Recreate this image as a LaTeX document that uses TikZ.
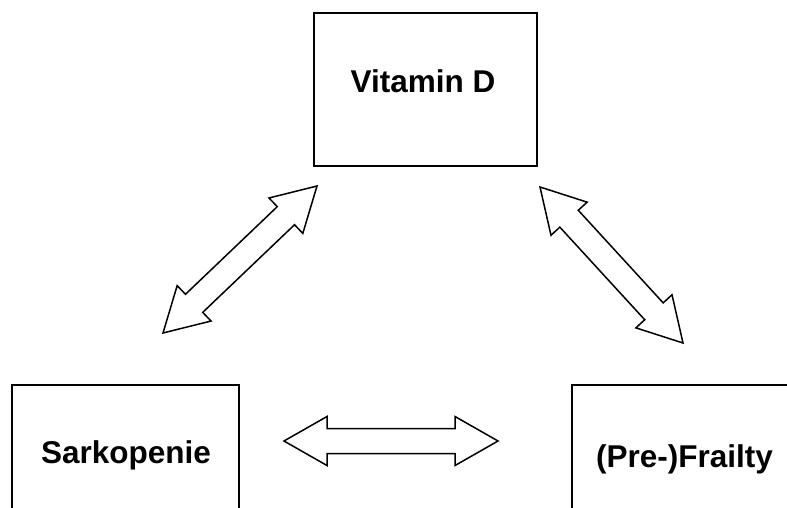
\documentclass[tikz,border=0pt]{standalone}
\usepackage{fontspec}
\setmainfont{Liberation Sans}
\usetikzlibrary{calc}
\tikzset{
  boxline/.style={draw=black, line width=1.8pt},
  label text/.style={font=\fontsize{31.5}{38}\selectfont\bfseries, inner sep=0pt, anchor=base},
  arrowline/.style={draw=black, fill=white, line width=1.5pt, line join=miter},
}
\newcommand\hl{43pt}
\newcommand\hw{24.5pt}
\newcommand\sw{12.5pt}
\newcommand\hollowarrow[2]{%
  \draw[arrowline] (#1)
   -- ($(#1)!\hl!(#2)!\hw!90:(#2)$)
   -- ($(#1)!\hl!(#2)!\sw!90:(#2)$)
   -- ($(#2)!\hl!(#1)!\sw!-90:(#1)$)
   -- ($(#2)!\hl!(#1)!\hw!-90:(#1)$)
   -- (#2)
   -- ($(#2)!\hl!(#1)!\hw!90:(#1)$)
   -- ($(#2)!\hl!(#1)!\sw!90:(#1)$)
   -- ($(#1)!\hl!(#2)!\sw!-90:(#2)$)
   -- ($(#1)!\hl!(#2)!\hw!-90:(#2)$)
   -- cycle;}
\begin{document}
\begin{tikzpicture}[x=1pt,y=-1pt]
\useasboundingbox (0,0) rectangle (787,507);
\clip (0,0) rectangle (787,507);
% boxes
\draw[boxline] (314,13) rectangle (537,166);
\draw[boxline] (12,385) rectangle (239,530);
\draw[boxline] (572,385) rectangle (810,530);
% texts
\node[label text] (vitd) at (423,92) {Vitamin D};
\node[label text] (sark) at (126,463) {Sarkopenie};
\node[label text] (frail) at (684.5,467) {(Pre-)Frailty};
% arrow tips
\coordinate (a1) at (317,186);
\coordinate (a2) at (163,333);
\coordinate (b1) at (540,187);
\coordinate (b2) at (683,343);
\coordinate (c1) at (284,441);
\coordinate (c2) at (498,441);
\hollowarrow{a1}{a2}
\hollowarrow{b1}{b2}
\hollowarrow{c1}{c2}
\end{tikzpicture}
\end{document}
